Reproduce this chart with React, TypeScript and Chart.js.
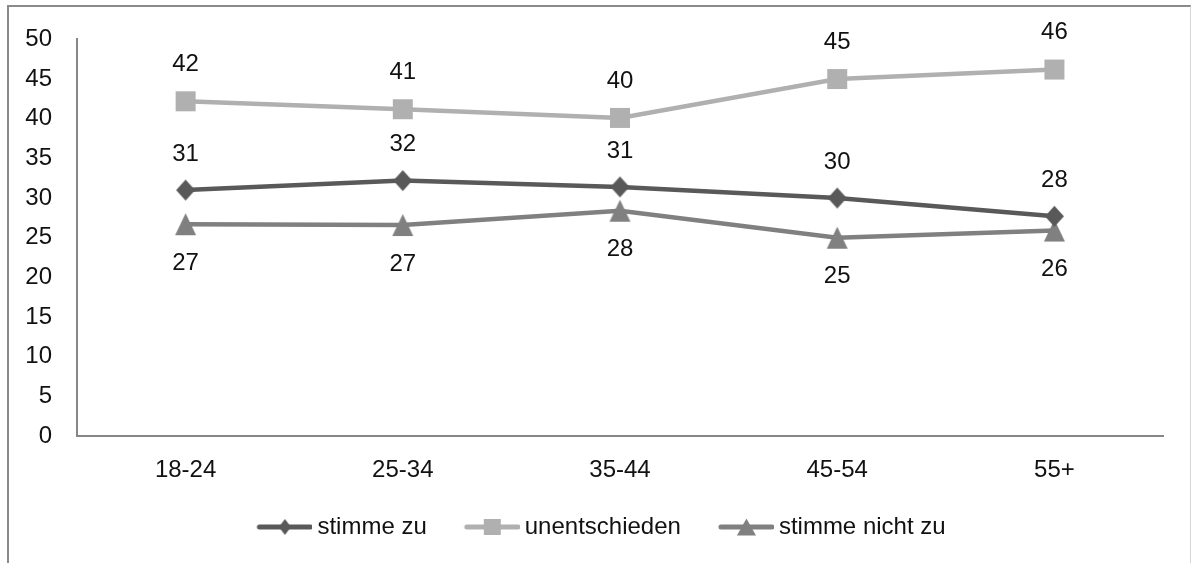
import React, { useEffect, useRef } from 'react';
import { Chart, registerables } from 'chart.js';

Chart.register(...registerables);

// ---- data ----
const categories = ['18-24', '25-34', '35-44', '45-54', '55+'];
const seriesNames = ['stimme zu', 'unentschieden', 'stimme nicht zu'];
const stimmeZu = [31.0, 32.2, 31.4, 30.0, 27.7];
const unentschieden = [42.2, 41.2, 40.1, 45.0, 46.2];
const stimmeNichtZu = [26.7, 26.6, 28.4, 25.0, 25.9];
const yMin = 0;
const yMax = 50;
const yStep = 5;

// ---- styles ----
const FONT = '"Liberation Sans", Arial, sans-serif';
const TEXT = '#111111';
const AXIS = '#878787';
const colors = ['#595959', '#b0b0b0', '#808080'];
const shapes = ['diamond', 'square', 'triangle'];
const markerSizes: [number, number][] = [[19, 21], [20, 20], [21, 22]];
const legendMarkerSizes: [number, number][] = [[12, 16], [17, 16], [19, 17]];
const labelOffsets = [-36, -37, 39];

function shapePath(g: CanvasRenderingContext2D, shape: string, cx: number, cy: number, w: number, h: number) {
  g.beginPath();
  if (shape === 'diamond') {
    g.moveTo(cx, cy - h / 2);
    g.lineTo(cx + w / 2, cy);
    g.lineTo(cx, cy + h / 2);
    g.lineTo(cx - w / 2, cy);
  } else if (shape === 'square') {
    g.rect(cx - w / 2, cy - h / 2, w, h);
  } else {
    g.moveTo(cx, cy - h / 2);
    g.lineTo(cx + w / 2, cy + h / 2);
    g.lineTo(cx - w / 2, cy + h / 2);
  }
  g.closePath();
}

function markerImage(shape: string, w: number, h: number, color: string) {
  const c = document.createElement('canvas');
  c.width = Math.ceil(w) + 2;
  c.height = Math.ceil(h) + 2;
  const g = c.getContext('2d')!;
  g.fillStyle = color;
  shapePath(g, shape, c.width / 2, c.height / 2, w, h);
  g.fill();
  return c;
}

const LEGEND_BOX = 76;
function legendImage(shape: string, w: number, h: number, color: string) {
  const c = document.createElement('canvas');
  c.width = LEGEND_BOX + 14;
  c.height = 24;
  const g = c.getContext('2d')!;
  const x0 = c.width - 55;
  const x1 = c.width - 2;
  g.strokeStyle = color;
  g.lineWidth = 5;
  g.lineCap = 'round';
  g.beginPath();
  g.moveTo(x0 + 2, 12);
  g.lineTo(x1, 12);
  g.stroke();
  g.fillStyle = color;
  shapePath(g, shape, (x0 + c.width) / 2, 12, w, h);
  g.fill();
  return c;
}

const valueLabels = {
  id: 'valueLabels',
  afterDatasetsDraw(chart: any) {
    const ctx = chart.ctx;
    ctx.save();
    ctx.font = `24px ${FONT}`;
    ctx.fillStyle = TEXT;
    ctx.textAlign = 'center';
    ctx.textBaseline = 'middle';
    chart.data.datasets.forEach((ds: any, i: number) => {
      const meta = chart.getDatasetMeta(i);
      meta.data.forEach((pt: any, j: number) => {
        ctx.fillText(String(Math.round(ds.data[j])), pt.x, pt.y + labelOffsets[i]);
      });
    });
    ctx.restore();
  },
};

export default function App() {
  const ref = useRef<HTMLCanvasElement | null>(null);

  useEffect(() => {
    const canvas = ref.current;
    if (!canvas) return;
    const seriesData = [stimmeZu, unentschieden, stimmeNichtZu];
    const pointImgs = seriesData.map((_, i) =>
      markerImage(shapes[i], markerSizes[i][0], markerSizes[i][1], colors[i])
    );
    const legendImgs = seriesData.map((_, i) =>
      legendImage(shapes[i], legendMarkerSizes[i][0], legendMarkerSizes[i][1], colors[i])
    );

    const chart = new Chart(canvas, {
      type: 'line',
      data: {
        labels: categories,
        datasets: seriesData.map((d, i) => ({
          label: seriesNames[i],
          data: d,
          borderColor: colors[i],
          backgroundColor: colors[i],
          borderWidth: 4.5,
          tension: 0,
          fill: false,
          pointStyle: pointImgs[i] as any,
          pointRadius: 10,
          pointBorderWidth: 0,
        })),
      },
      options: {
        responsive: false,
        animation: false,
        events: [],
        layout: { padding: { left: 12, right: 28, top: 36, bottom: 14 } },
        font: { family: FONT, size: 24 },
        color: TEXT,
        plugins: {
          tooltip: { enabled: false },
          legend: {
            position: 'bottom',
            labels: {
              font: { family: FONT, size: 24 },
              color: TEXT,
              usePointStyle: true,
              pointStyleWidth: LEGEND_BOX,
              padding: 10,
              generateLabels: (ch: any) =>
                ch.data.datasets.map((ds: any, i: number) => ({
                  text: ds.label,
                  pointStyle: legendImgs[i],
                  fillStyle: colors[i],
                  strokeStyle: colors[i],
                  lineWidth: 0,
                  hidden: false,
                  datasetIndex: i,
                  fontColor: TEXT,
                })),
            },
          },
        },
        scales: {
          x: {
            offset: true,
            grid: { display: false, drawTicks: false, offset: true },
            border: { display: true, color: AXIS, width: 2 },
            ticks: { font: { family: FONT, size: 24 }, color: TEXT, padding: 20, maxRotation: 0 },
            afterFit: (s: any) => { s.height = 69; },
          },
          y: {
            min: yMin,
            max: yMax,
            grid: { display: false, drawTicks: false },
            border: { display: true, color: AXIS, width: 2 },
            ticks: { stepSize: yStep, font: { family: FONT, size: 24 }, color: TEXT, padding: 25 },
            afterFit: (s: any) => { s.width = 65; },
          },
        },
      },
      plugins: [valueLabels],
    } as any);

    return () => chart.destroy();
  }, []);

  return (
    <div>
      <div
        style={{
          position: 'fixed',
          left: 7,
          top: 5,
          width: 1184,
          height: 558,
          boxSizing: 'border-box',
          borderLeft: '2px solid #8a8a8a',
          borderTop: '2px solid #8a8a8a',
          borderRight: '1px solid #d6d6d6',
          background: '#ffffff',
        }}
      />
      <canvas
        ref={ref}
        width={1191}
        height={563}
        style={{ position: 'fixed', left: 0, top: 0, width: 1191, height: 563, zIndex: 1 }}
      />
    </div>
  );
}
